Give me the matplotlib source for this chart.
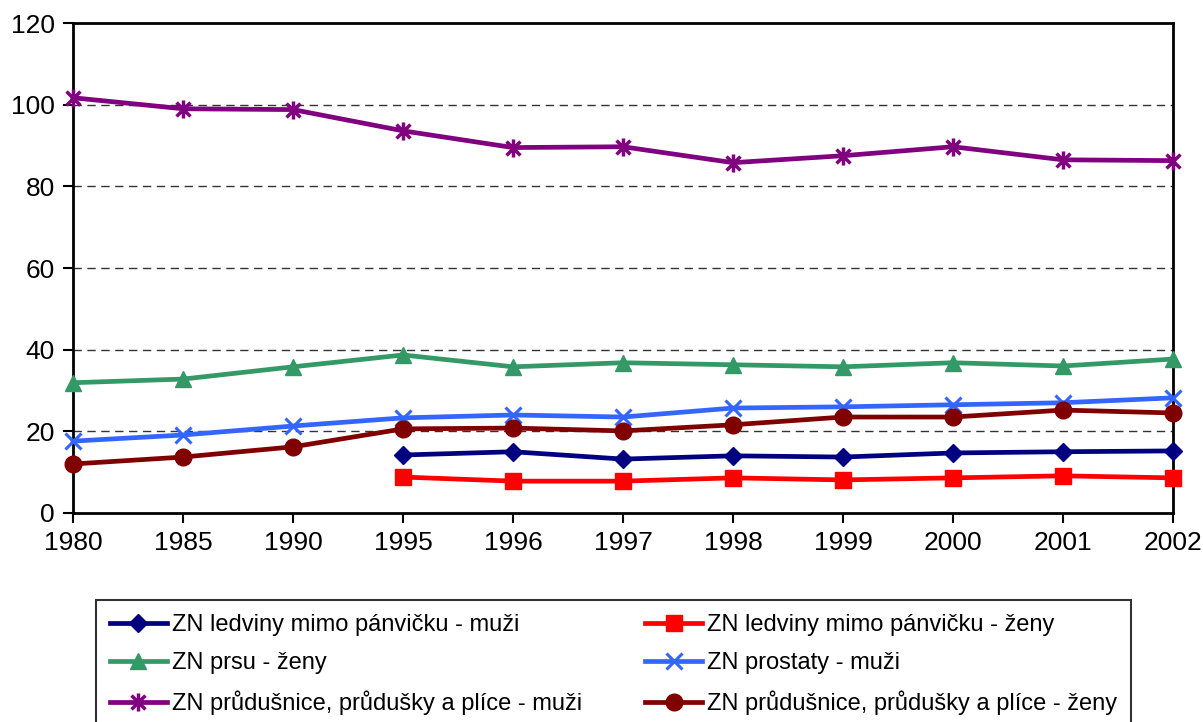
import matplotlib.pyplot as plt
from matplotlib.path import Path

plt.rcParams['font.family'] = ['Liberation Sans Narrow', 'Liberation Sans', 'DejaVu Sans']

years = ["1980", "1985", "1990", "1995", "1996", "1997", "1998", "1999", "2000", "2001", "2002"]

ledviny_muzi = [None, None, None, 14.2, 15.0, 13.2, 14.0, 13.7, 14.7, 15.0, 15.2]
ledviny_zeny = [None, None, None, 8.8, 7.8, 7.8, 8.6, 8.1, 8.6, 9.1, 8.6]
prsu_zeny = [31.9, 32.8, 35.8, 38.7, 35.8, 36.8, 36.3, 35.8, 36.8, 36.0, 37.7]
prostaty_muzi = [17.6, 19.1, 21.3, 23.3, 24.0, 23.5, 25.7, 26.0, 26.5, 27.0, 28.2]
plice_muzi = [101.7, 99.0, 98.8, 93.6, 89.5, 89.7, 85.8, 87.5, 89.7, 86.5, 86.3]
plice_zeny = [12.0, 13.7, 16.2, 20.6, 20.8, 20.1, 21.6, 23.5, 23.5, 25.2, 24.5]

# excel-like star: an x with a vertical bar
star = Path([(-1, -1), (1, 1), (-1, 1), (1, -1), (0, -1.3), (0, 1.3)],
            [Path.MOVETO, Path.LINETO, Path.MOVETO, Path.LINETO, Path.MOVETO, Path.LINETO])

series = [
    (ledviny_muzi, "ZN ledviny mimo pánvičku - muži", "#000080", "D", 9, 1),
    (ledviny_zeny, "ZN ledviny mimo pánvičku - ženy", "#ff0000", "s", 11, 1),
    (prsu_zeny, "ZN prsu - ženy", "#339966", "^", 12, 1),
    (prostaty_muzi, "ZN prostaty - muži", "#3366ff", "x", 12, 2.2),
    (plice_muzi, "ZN průdušnice, průdušky a plíce - muži", "#800080", star, 13, 2.5),
    (plice_zeny, "ZN průdušnice, průdušky a plíce - ženy", "#800000", "o", 12, 1),
]

fig = plt.figure(figsize=(12.03, 7.22), dpi=100)
ax = fig.add_axes([0.0607, 0.2895, 0.9143, 0.6786])

x = list(range(len(years)))
handles = []
for vals, label, color, marker, ms, mew in series:
    xs = [i for i, v in zip(x, vals) if v is not None]
    ys = [v for v in vals if v is not None]
    h, = ax.plot(xs, ys, color=color, lw=3.4, marker=marker, markersize=ms,
                 markeredgewidth=mew, markeredgecolor=color,
                 markerfacecolor=color, label=label, clip_on=False, zorder=3)
    handles.append(h)

ax.set_xlim(0, len(years) - 1)
ax.set_ylim(0, 120)
ax.set_xticks(x)
ax.set_xticklabels(years)
ax.set_yticks(range(0, 121, 20))
ax.tick_params(direction="out", length=7, width=1.5, labelsize=19, pad=6)
for y in range(20, 101, 20):
    ax.axhline(y, color="#333333", lw=1, ls=(0, (6, 4)), zorder=1)
for s in ax.spines.values():
    s.set_linewidth(2)
    s.set_color("black")

# row-wise order like the original legend
order = [0, 2, 4, 1, 3, 5]
leg = fig.legend([handles[i] for i in order], [handles[i].get_label() for i in order],
                 loc="upper left", bbox_to_anchor=(0.0798, 0.169), borderaxespad=0,
                 ncol=2, fontsize=17, frameon=True, fancybox=False, edgecolor="black",
                 handlelength=2.4, handletextpad=0.2, columnspacing=2.7,
                 labelspacing=0.68, borderpad=0.6)
leg.get_frame().set_linewidth(1.5)

fig.savefig("out.png", dpi=100)
